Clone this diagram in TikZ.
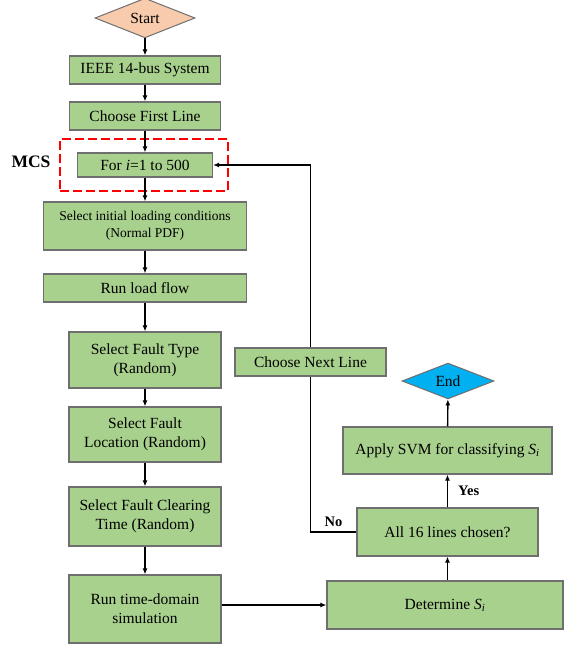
\documentclass[tikz,border=0pt]{standalone}
\usepackage{fontspec}
\setmainfont{Liberation Serif}
\usetikzlibrary{shapes.geometric,arrows.meta}
\definecolor{boxgreen}{HTML}{A9D18E}
\definecolor{boxgray}{HTML}{6F6F6F}
\definecolor{startorange}{HTML}{F8CBAD}
\definecolor{endblue}{HTML}{00B0F0}
\begin{document}
\begin{tikzpicture}[x=1pt,y=-1pt]
    \tikzstyle{every node}=[font=\fontsize{15.5}{19}\selectfont, inner sep=0pt];
    \tikzstyle{stepbox}=[draw=boxgray, fill=boxgreen, line width=1.2pt, align=center];
    \tikzstyle{arr}=[line width=1.4pt, -{Latex[length=6pt,width=5pt]}];
    \tikzstyle{line}=[line width=1.4pt];
    \useasboundingbox (0,0) rectangle (564,646);
    % left column
    \node[shape=diamond, draw=boxgray, fill=startorange, line width=1pt, minimum width=100pt, minimum height=28pt] (start) at (145,18) {Start};
    \node[stepbox, minimum width=151pt, minimum height=28pt] (ieee) at (145,70) {IEEE 14-bus System};
    \node[stepbox, minimum width=151pt, minimum height=28pt] (first) at (145,116) {Choose First Line};
    \node[draw=red, dash pattern=on 9pt off 4pt, line width=1.5pt, minimum width=168pt, minimum height=52pt] (mcsbox) at (144,165) {};
    \node[font=\fontsize{17.5}{20}\selectfont\bfseries] (mcs) at (31,162) {MCS};
    \node[stepbox, minimum width=135pt, minimum height=24pt] (fori) at (145,165) {For \textit{i}=1 to 500};
    \node[stepbox, minimum width=203pt, minimum height=48pt, font=\fontsize{13.5}{17}\selectfont] (init) at (145,226) {Select initial loading conditions\\(Normal PDF)};
    \node[stepbox, minimum width=203pt, minimum height=28pt] (flow) at (145,288) {Run load flow};
    \node[stepbox, minimum width=152pt, minimum height=56pt] (ftype) at (145,360) {Select Fault Type\\(Random)};
    \node[stepbox, minimum width=152pt, minimum height=55pt] (floc) at (145,434.5) {Select Fault\\Location (Random)};
    \node[stepbox, minimum width=152pt, minimum height=59pt] (fclear) at (145,516.5) {Select Fault Clearing\\Time (Random)};
    \node[stepbox, minimum width=152pt, minimum height=68pt] (sim) at (145,609) {Run time-domain\\simulation};
    % right column
    \node[stepbox, minimum width=151pt, minimum height=28pt] (next) at (310.5,362) {Choose Next Line};
    \node[shape=diamond, draw=boxgray, fill=endblue, line width=1pt, minimum width=92pt, minimum height=28pt] (end) at (448,381) {End};
    \node[stepbox, minimum width=209pt, minimum height=47pt] (svm) at (447.5,450.5) {Apply SVM for classifying \textit{S\textsubscript{i}}};
    \node[stepbox, minimum width=181pt, minimum height=48pt] (all) at (447.5,532) {All 16 lines chosen?};
    \node[stepbox, minimum width=236pt, minimum height=48pt] (det) at (445,605) {Determine \textit{S\textsubscript{i}}};
    % connectors
    \draw[arr] (start) -- (ieee);
    \draw[arr] (ieee) -- (first);
    \draw[arr] (first) -- (fori);
    \draw[arr] (fori) -- (init);
    \draw[arr] (init) -- (flow);
    \draw[arr] (flow) -- (ftype);
    \draw[arr] (ftype) -- (floc);
    \draw[arr] (floc) -- (fclear);
    \draw[arr] (fclear) -- (sim);
    \draw[arr] (sim.east |- det.west) -- (det.west);
    \draw[arr] (all.south |- det.north) -- (all.south);
    \draw[arr] (all) -- node[right=10pt, font=\fontsize{14.5}{17}\selectfont\bfseries] {Yes} (svm);
    \draw[arr] (svm) -- (end);
    \draw[line] (all.west) -| node[pos=0.25, above=5pt, font=\fontsize{14.5}{17}\selectfont\bfseries] {No} (next.south);
    \draw[arr] (next.north) |- (fori.east);
\end{tikzpicture}
\end{document}
